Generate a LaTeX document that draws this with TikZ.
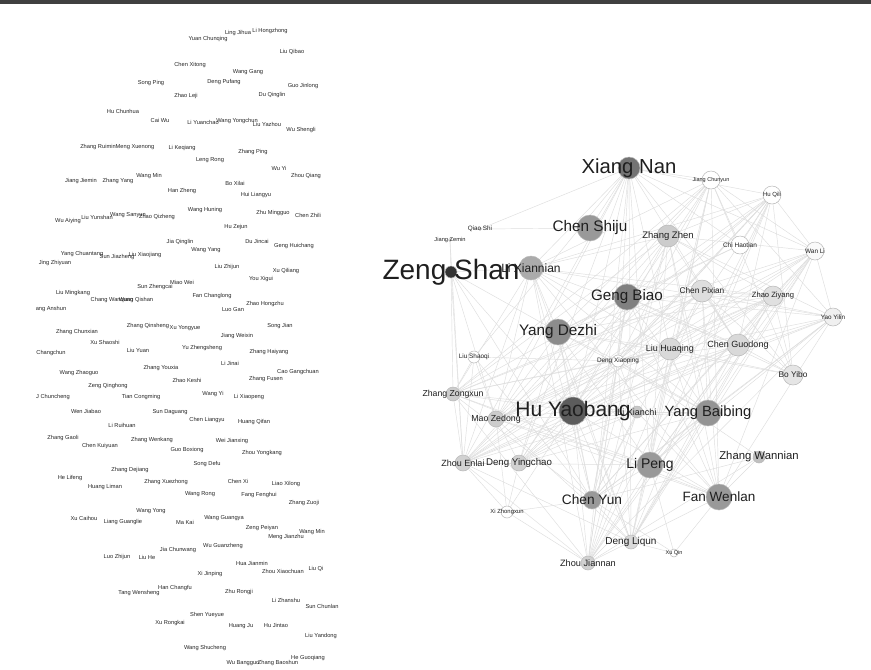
\documentclass[tikz,border=0pt]{standalone}
\usepackage{fontspec}
\setmainfont{Liberation Sans}
\usetikzlibrary{backgrounds}

\tikzset{
  nd/.style={circle, draw=black!28, line width=0.5pt, inner sep=0pt},
  link/.style={draw=black!13, line width=0.45pt},
  lbl/.style={font=\fontsize{#1}{#1}\selectfont, inner sep=0pt, text=black!88},
  pname/.style={font=\fontsize{5.7}{6}\selectfont, inner sep=0pt, text=black!85},
}

\def\core{XiangNan,ChenShiju,LiXiannian,GengBiao,YangDezhi,ZhangZhen,JiangChunyun,HuQili,ChiHaotian,WanLi,ChenPixian,ZhaoZiyang,YaoYilin,LiuHuaqing,ChenGuodong,BoYibo,HuYaobang,LiXianchi,YangBaibing,ZhangZongxun,MaoZedong,ZhouEnlai,DengYingchao,LiPeng,ZhangWannian,ChenYun,FanWenlan,DengLiqun,ZhouJiannan,DengXiaoping}

\begin{document}
\begin{tikzpicture}[x=1pt, y=-1pt]
    \useasboundingbox (0,0) rectangle (871,670);
    % Top rule
    \fill[black!75] (0,0) rectangle (871,3.5);
    % Names on the left
    \foreach \x/\y/\t [count=\k] in {
        238/33/Ling Jihua, 270/31/Li Hongzhong, 208/39/Yuan Chunqing, 292/52/Liu Qibao,
        190/65/Chen Xitong, 248/72/Wang Gang, 151/83/Song Ping, 224/82/Deng Pufang,
        303/86/Guo Jinlong, 186/96/Zhao Leji, 272/95/Du Qinglin, 123/111/Hu Chunhua,
        160/120/Cai Wu, 203/122/Li Yuanchao, 237/121/Wang Yongchun, 267/124/Liu Yazhou,
        301/130/Wu Shengli, 98/147/Zhang Ruimin, 135/147/Meng Xuenong, 182/148/Li Keqiang,
        253/152/Zhang Ping, 210/160/Leng Rong, 279/168/Wu Yi, 306/176/Zhou Qiang,
        81/181/Jiang Jiemin, 118/181/Zhang Yang, 149/176/Wang Min, 235/183/Bo Xilai,
        182/191/Han Zheng, 256/195/Hui Liangyu, 205/210/Wang Huning, 273/213/Zhu Mingguo,
        308/215/Chen Zhili, 68/221/Wu Aiying, 97/217/Liu Yunshan, 128/215/Wang Sanyun,
        157/217/Zhao Qizheng, 236/227/Hu Zejun, 180/242/Jia Qinglin, 257/241/Du Jincai,
        294/246/Geng Huichang, 206/250/Wang Yang, 82/254/Yang Chuantang, 117/257/Sun Jiazheng,
        145/255/Liu Xiaojiang, 55/263/Jing Zhiyuan, 227/267/Liu Zhijun, 286/271/Xu Qiliang,
        261/279/You Xigui, 182/282/Miao Wei, 155/287/Sun Zhengcai, 73/293/Liu Mingkang,
        212/296/Fan Changlong, 112/300/Chang Wanquan, 136/300/Wang Qishan, 265/304/Zhao Hongzhu,
        51/309/ang Anshun, 233/310/Luo Gan, 148/326/Zhang Qinsheng, 185/328/Xu Yongyue,
        280/326/Song Jian, 77/332/Zhang Chunxian, 237/336/Jiang Weixin, 105/342/Xu Shaoshi,
        138/350/Liu Yuan, 202/348/Yu Zhengsheng, 269/352/Zhang Haiyang, 51/353/Changchun,
        230/363/Li Jinai, 161/368/Zhang Youxia, 79/373/Wang Zhaoguo, 298/372/Cao Gangchuan,
        187/380/Zhao Keshi, 266/379/Zhang Fusen, 108/386/Zeng Qinghong, 53/397/J Chuncheng,
        141/397/Tian Congming, 213/394/Wang Yi, 249/397/Li Xiaopeng, 86/411/Wen Jiabao,
        170/412/Sun Daguang, 207/420/Chen Liangyu, 254/422/Huang Qifan, 122/425/Li Ruihuan,
        63/438/Zhang Gaoli, 152/440/Zhang Wenkang, 232/441/Wei Jianxing, 100/446/Chen Kuiyuan,
        187/450/Guo Boxiong, 262/453/Zhou Yongkang, 207/464/Song Defu, 130/470/Zhang Dejiang,
        70/478/He Lifeng, 166/482/Zhang Xuezhong, 238/481/Chen Xi, 286/484/Liao Xilong,
        105/487/Huang Liman, 200/494/Wang Rong, 259/495/Fang Fenghui, 304/503/Zhang Zuoji,
        151/511/Wang Yong, 84/518/Xu Caihou, 123/522/Liang Guanglie, 185/522/Ma Kai,
        224/518/Wang Guangya, 262/528/Zeng Peiyan, 312/532/Wang Min, 286/537/Meng Jianzhu,
        178/550/Jia Chunwang, 223/546/Wu Guanzheng, 117/557/Luo Zhijun, 147/557/Liu He,
        252/563/Hua Jianmin, 210/574/Xi Jinping, 283/571/Zhou Xiaochuan, 316/569/Liu Qi,
        175/588/Han Changfu, 139/593/Tang Wensheng, 239/592/Zhu Rongji, 286/600/Li Zhanshu,
        322/606/Sun Chunlan, 207/615/Shen Yueyue, 170/623/Xu Rongkai, 241/626/Huang Ju,
        276/625/Hu Jintao, 321/636/Liu Yandong, 205/648/Wang Shucheng, 243/663/Wu Bangguo,
        278/663/Zhang Baoshun, 308/658/He Guoqiang} {
        \node[pname] (p\k) at (\x,\y) {\t};
    }
    % Network on the right: the nodes
    \foreach \n/\x/\y/\d/\s in {
        ZengShan/451/272/12/80, LiXiannian/531/268/24/33, XiangNan/629/168/22/55,
        ChenShiju/590/228/26/40, GengBiao/627/297/26/50, YangDezhi/558/332/26/45,
        ZhangZhen/668/236/22/20, JiangChunyun/711/180/18/0, HuQili/772/195/18/0,
        ChiHaotian/740/245/18/0, WanLi/815/251/18/2, ChenPixian/702/291/22/13,
        ZhaoZiyang/773/296/20/12, YaoYilin/833/317/18/6, LiuShaoqi/474/357/12/0,
        DengXiaoping/618/361/12/0, LiuHuaqing/670/349/22/15, ChenGuodong/738/345/22/15,
        BoYibo/793/375/20/10, ZhangZongxun/453/394/14/20, HuYaobang/573/411/28/64,
        LiXianchi/637/412/12/22, MaoZedong/496/419/16/20, YangBaibing/708/413/26/42,
        ZhouEnlai/463/463/16/18, DengYingchao/519/463/16/18, LiPeng/650/465/26/40,
        ZhangWannian/759/457/12/25, ChenYun/592/500/18/40, FanWenlan/719/497/26/40,
        XiZhongxun/507/512/12/0, DengLiqun/631/542/14/15, XuQin/674/553/8/0,
        ZhouJiannan/588/563/14/18, QiaoShi/480/229/3/0, JiangZemin/450/240/3/0} {
        \node[nd, minimum size=\d pt, fill=black!\s] (\n) at (\x,\y) {};
    }
    % the edges, behind the nodes
    \begin{pgfonlayer}{background}
        \fill[white] (0,3.5) rectangle (871,670);
        \foreach \a [count=\i] in \core {
            \foreach \b [count=\j] in \core {
                \pgfmathtruncatemacro\h{mod(\i*\j+3*\i+5*\j,7)}
                \ifnum\j>\i \ifnum\h<4
                    \draw[link] (\a.center) -- (\b.center);
                \fi\fi
            }
        }
        \foreach \a/\b in {ZengShan/LiXiannian, ZengShan/JiangZemin, ZengShan/ZhangZongxun,
            ZengShan/MaoZedong, ZengShan/ZhouEnlai, ZengShan/YangDezhi, ZengShan/HuYaobang,
            ZengShan/ChenYun, QiaoShi/XiangNan, QiaoShi/ChenShiju, JiangZemin/ZhouEnlai,
            LiuShaoqi/MaoZedong, LiuShaoqi/ZhouEnlai, LiuShaoqi/ZhangZongxun, LiuShaoqi/ChenYun,
            LiuShaoqi/DengXiaoping, LiuShaoqi/XiangNan, XiZhongxun/ZhouEnlai,
            XiZhongxun/DengYingchao, XiZhongxun/ChenYun, XiZhongxun/HuYaobang,
            XiZhongxun/ZhouJiannan, XiZhongxun/MaoZedong, XuQin/DengLiqun, XuQin/LiPeng,
            XuQin/FanWenlan, XuQin/ChenYun} {
            \draw[link] (\a.center) -- (\b.center);
        }
    \end{pgfonlayer}
    % Labels, smallest first
    \foreach \n/\f/\t in {
        JiangZemin/5.7/Jiang Zemin, XuQin/5.5/Xu Qin, JiangChunyun/5.5/Jiang Chunyun,
        XiZhongxun/5.9/Xi Zhongxun, HuQili/6/Hu Qili, QiaoShi/6.3/Qiao Shi,
        YaoYilin/6.3/Yao Yilin, WanLi/6.4/Wan Li, LiuShaoqi/6.4/Liu Shaoqi,
        DengXiaoping/6.4/Deng Xiaoping, ChiHaotian/6.5/Chi Haotian, ZhaoZiyang/7.6/Zhao Ziyang,
        BoYibo/8.3/Bo Yibo, ChenPixian/8.3/Chen Pixian, ZhangZongxun/8.7/Zhang Zongxun,
        MaoZedong/8.8/Mao Zedong, ZhouEnlai/9/Zhou Enlai, LiuHuaqing/9/Liu Huaqing,
        ChenGuodong/9/Chen Guodong, LiXianchi/9/Li Xianchi, ZhouJiannan/9.2/Zhou Jiannan,
        ZhangZhen/9.5/Zhang Zhen, DengYingchao/9.7/Deng Yingchao, DengLiqun/10/Deng Liqun,
        ZhangWannian/11.3/Zhang Wannian, LiXiannian/12/Li Xiannian, FanWenlan/13.5/Fan Wenlan,
        ChenYun/13.7/Chen Yun, LiPeng/14/Li Peng, YangBaibing/14.8/Yang Baibing,
        ChenShiju/15.3/Chen Shiju, GengBiao/15.2/Geng Biao, YangDezhi/15.3/Yang Dezhi,
        XiangNan/20.3/Xiang Nan, HuYaobang/21/Hu Yaobang, ZengShan/28/Zeng Shan} {
        \node[lbl=\f] (l\n) at (\n) {\t};
    }
\end{tikzpicture}
\end{document}
